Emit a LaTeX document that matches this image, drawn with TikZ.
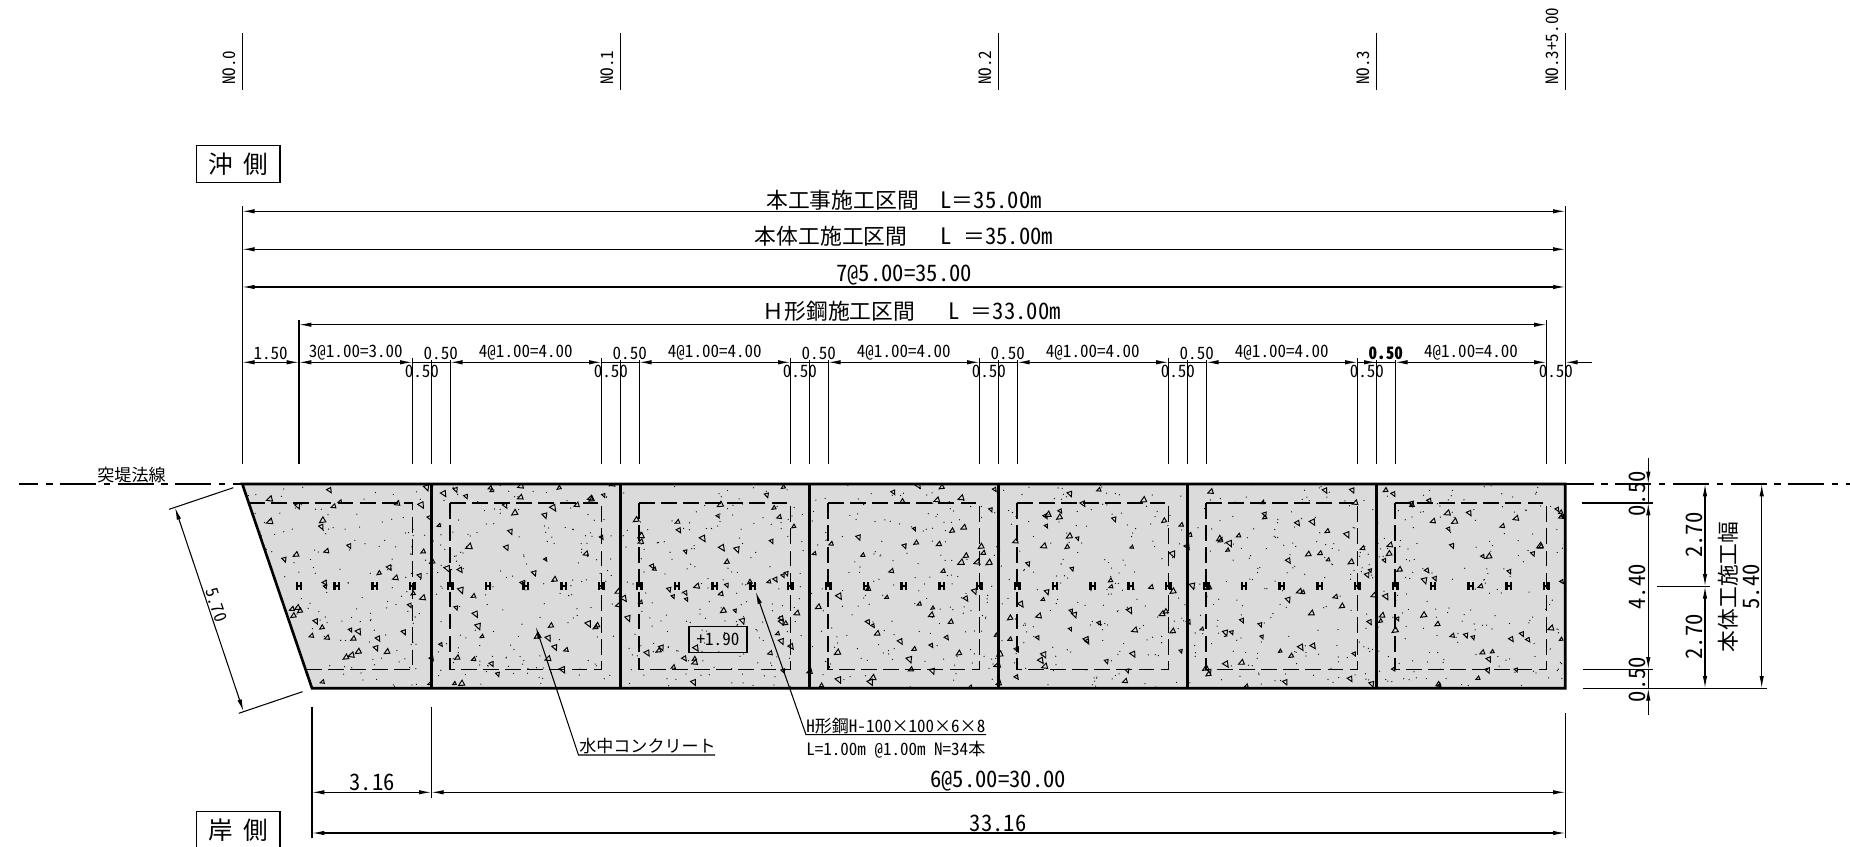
\documentclass[tikz,border=0pt]{standalone}
\usepackage{fontspec}
\setmainfont{Noto Sans CJK JP}[RawFeature={+hwid}]
\newfontfamily\jpw{Noto Sans CJK JP}
\newcommand{\kj}[1]{{\jpw\fontsize{12.4pt}{15pt}\selectfont #1}}
\usetikzlibrary{arrows.meta}
\definecolor{slabgray}{HTML}{DBDBDB}
\begin{document}
\begin{tikzpicture}[x=0.02cm,y=-0.02cm,>={Latex[length=7pt,width=2.5pt]}]
    \tikzstyle{line}=[line width=.6pt]
    \tikzstyle{dim}=[line width=.6pt,<->]
    \tikzstyle{lab}=[inner sep=0pt,font=\fontsize{9.7pt}{12pt}\selectfont]
    \tikzstyle{biglab}=[inner sep=0pt,font=\fontsize{12.9pt}{15pt}\selectfont]
    \tikzstyle{sidebox}=[draw,line width=.6pt,minimum width=47.6pt,minimum height=21.3pt,inner sep=0pt,font=\jpw\fontsize{14pt}{15pt}\selectfont]
    \tikzstyle{centre}=[line width=.6pt,dash pattern=on 20.5pt off 4.3pt on 3.7pt off 4.3pt]
    \tikzstyle{hatch}=[line width=.55pt]
    \useasboundingbox (0,0) rectangle (1850,847);

    \coordinate (tl) at (242.3,484);
    \coordinate (tr) at (1565.3,484);
    \coordinate (br) at (1565.3,688.3);
    \coordinate (bl) at (312,688.3);
    \coordinate (j0) at (431.3,484);
    \coordinate (base) at (0,464.3);

    \fill[slabgray] (tl) -- (tr) -- (br) -- (bl) -- cycle;
    \begin{scope}
        \clip (tl) -- (tr) -- (br) -- (bl) -- cycle;
        \pgfmathsetseed{4711}
        \foreach \k in {0,...,6} {
            \foreach \i in {1,...,170}
                \fill ({242.3+189*\k+189*rnd},{484+204.3*rnd}) circle (.36pt);
            \foreach \i in {1,...,56} {
                \pgfmathsetmacro{\tx}{242.3+189*\k+189*rnd}
                \pgfmathsetmacro{\ty}{484+204.3*rnd}
                \pgfmathsetmacro{\tr}{90*int(2*rnd)+20*rnd-10}
                \pgfmathsetmacro{\ts}{.6+.5*rnd}
                \draw[hatch,line join=miter,shift={(\tx,\ty)},rotate=\tr,scale=\ts] (-3,2) -- (3,2) -- (1,-3) -- cycle;
            }
        }
    \end{scope}

    \tikzstyle{inner}=[line width=.85pt,dash pattern=on 9pt off 3.6pt]
    \draw[inner] (249,503) -- (412.4,503) -- (412.4,669.4) -- (306,669.4);
    \foreach \k in {1,...,6}
        \draw[inner] ({242.3+189*\k+18.9},503) rectangle ({242.3+189*(\k+1)-18.9},669.4);
    \foreach \m in {1,...,34}
        \draw[line width=1.3pt,shift={({242.3+37.8*(\m+.5)},586.3)}] (-2.2,-4) -- (-2.2,4) (2.2,-4) -- (2.2,4) (-2.2,0) -- (2.2,0);

    \draw[line width=1.5pt] (tl) -- (tr) -- (br) -- (bl) -- cycle;
    \foreach \k in {1,...,6}
        \draw[line width=1.5pt] ({242.3+189*\k},484) -- ({242.3+189*\k},688.3);

    \coordinate (cl) at (19.3,484);
    \coordinate (cr) at (1850,484);
    \draw[centre,dash phase=9.6pt] (cl) -- (tl);
    \draw[centre,dash phase=4.3pt] (tr) -- (cr);
    \node (cname) [lab] at (131.5,475) {突堤法線};

    \foreach \n/\xa in {0/242.3,1/620.3,2/998.3,3/1376.3,4/1565.3} {
        \coordinate (nt\n) at (\xa,33);
        \coordinate (nb\n) at (\xa,90);
        \draw[line] (nt\n) -- (nb\n);
    }
    \node (n0) [lab,rotate=90,anchor=west] at (229.7,85) {NO.0};
    \node (n1) [lab,rotate=90,anchor=west] at (607.7,85) {NO.1};
    \node (n2) [lab,rotate=90,anchor=west] at (985.7,85) {NO.2};
    \node (n3) [lab,rotate=90,anchor=west] at (1363.7,85) {NO.3};
    \node (n4) [lab,rotate=90,anchor=west] at (1552.7,85) {NO.3+5.00};

    \node (oki) [sidebox] at (238.2,164) {沖\hspace{6pt}側};
    \node (kishi) [sidebox] at (238.2,830.3) {岸\hspace{6pt}側};

    \coordinate (a0) at (242.3,206);
    \coordinate (a1) at (1565.3,206);
    \coordinate (r1l) at (242.3,211.3);
    \coordinate (r1r) at (1565.3,211.3);
    \coordinate (r2l) at (242.3,249.3);
    \coordinate (r2r) at (1565.3,249.3);
    \coordinate (r3l) at (242.3,287);
    \coordinate (r3r) at (1565.3,287);
    \coordinate (h0) at (299,320);
    \coordinate (h1) at (1546.3,320);
    \coordinate (r4l) at (299,324.7);
    \coordinate (r4r) at (1546.3,324.7);
    \draw[line] (a0) -- (a0 |- base);
    \draw[line] (a1) -- (a1 |- base);
    \draw[line] (h0) -- (h0 |- base);
    \draw[line] (h1) -- (h1 |- base);
    \draw[dim] (r1l) -- (r1r);
    \draw[dim] (r2l) -- (r2r);
    \draw[dim] (r3l) -- (r3r);
    \draw[dim] (r4l) -- (r4r);
    \node (t1) [biglab] at (904,200) {\kj{本工事施工区間　}L\kj{＝}35.00m};
    \node (t2) [biglab] at (904,236.7) {\kj{本体工施工区間　} L \kj{＝}35.00m};
    \node (t3) [biglab] at (904,275) {7@5.00=35.00};
    \node (t4) [biglab] at (911.7,311.7) {\kj{Ｈ形鋼施工区間　} L \kj{＝}33.00m};

    \coordinate (s0) at (242.3,362.3);
    \coordinate (s1) at (299,362.3);
    \coordinate (s2) at (1546.3,362.3);
    \coordinate (s3) at (1565.3,362.3);
    \coordinate (s4) at (1592,362.3);
    \draw[dim] (s0) -- (s1);
    \node (w0) [lab] at (270.7,353) {1.50};
    \foreach \k in {0,...,5} {
        \pgfmathsetmacro{\xj}{431.3+189*\k}
        \coordinate (p\k) at ({\xj-18.9},362.3);
        \coordinate (q\k) at (\xj,362.3);
        \coordinate (r\k) at ({\xj+18.9},362.3);
        \coordinate (pt\k) at ({\xj-18.9},358);
        \coordinate (qt\k) at (\xj,360);
        \coordinate (rt\k) at ({\xj+18.9},360);
        \draw[line] (pt\k) -- (pt\k |- base);
        \draw[line] (qt\k) -- (qt\k |- base);
        \draw[line] (rt\k) -- (rt\k |- base);
        \draw[line] (p\k) -- (r\k);
        \node (lo\k) [lab] at ({\xj-9.45},371.7) {0.50};
    }
    \foreach \k in {0,...,4}
        \node (up\k) [lab] at ({431.3+189*\k+9.45},353) {0.50};
    \node (up5) [lab,font=\fontsize{9.7pt}{12pt}\selectfont\bfseries] at (1385.75,353) {0.50};
    \draw[line,->] (p5) -- (q5);
    \draw[dim] (s1) -- (p0);
    \node (w1) [lab] at (355.8,353) {3@1.00=3.00};
    \foreach \k/\kk in {0/1,1/2,2/3,3/4,4/5} {
        \draw[dim] (r\k) -- (p\kk);
        \node (w\kk) [lab] at ({431.3+189*\k+94.5},353) {4@1.00=4.00};
    }
    \draw[dim] (r5) -- (s2);
    \node (w6) [lab] at (1471,353) {4@1.00=4.00};
    \draw[line,<-] (s3) -- (s4);
    \node (lo6) [lab] at (1555.8,371.7) {0.50};

    \coordinate (ea) at (312,706.7);
    \coordinate (eb) at (431.3,706.7);
    \coordinate (ec) at (1565.3,713.3);
    \coordinate (ea2) at (312,837.7);
    \coordinate (eb2) at (431.3,797.7);
    \coordinate (ec2) at (1565.3,837.7);
    \coordinate (u0) at (312,792.3);
    \coordinate (u1) at (431.3,792.3);
    \coordinate (u2) at (1565.3,792.3);
    \coordinate (v0) at (312,833);
    \coordinate (v1) at (1565.3,833);
    \draw[line] (ea) -- (ea2);
    \draw[line] (eb) -- (eb2);
    \draw[line] (ec) -- (ec2);
    \draw[dim] (u0) -- (u1);
    \draw[dim] (u1) -- (u2);
    \draw[dim] (v0) -- (v1);
    \node (b0) [biglab] at (372,782.3) {3.16};
    \node (b1) [biglab] at (998,781) {6@5.00=30.00};
    \node (b2) [biglab] at (998,823.6) {33.16};

    \coordinate (g0) at (233.3,487.7);
    \coordinate (g1) at (169.2,509.3);
    \coordinate (g2) at (302.5,691.7);
    \coordinate (g3) at (238.8,713.3);
    \coordinate (g4) at (175,507.5);
    \coordinate (g5) at (243.5,711.5);
    \draw[line] (g0) -- (g1);
    \draw[line] (g2) -- (g3);
    \draw[dim] (g4) -- (g5);
    \node (slope) [lab,rotate=-71] at (216.5,605) {5.70};

    \coordinate (c0) at (1648.3,458);
    \coordinate (c1) at (1648.3,484);
    \coordinate (c2) at (1648.3,503);
    \coordinate (c3) at (1648.3,669.3);
    \coordinate (c4) at (1648.3,688.3);
    \coordinate (c5) at (1648.3,715);
    \draw[line,->] (c0) -- (c1);
    \draw[line] (c1) -- (c2);
    \draw[dim] (c2) -- (c3);
    \draw[line] (c3) -- (c4);
    \draw[line,<-] (c4) -- (c5);
    \coordinate (d0) at (1581.7,503);
    \coordinate (d1) at (1653.3,503);
    \coordinate (d2) at (1582.7,669.3);
    \coordinate (d3) at (1653.3,669.3);
    \coordinate (d4) at (1583,688.3);
    \coordinate (d5) at (1766.7,688.3);
    \coordinate (d6) at (1657,586.3);
    \coordinate (d7) at (1710,586.3);
    \draw[line] (d0) -- (d1);
    \draw[line] (d2) -- (d3);
    \draw[line] (d4) -- (d5);
    \draw[line] (d6) -- (d7);
    \coordinate (f0) at (1705,484);
    \coordinate (f1) at (1705,586.3);
    \coordinate (f2) at (1705,688.3);
    \coordinate (f3) at (1761.7,484);
    \coordinate (f4) at (1761.7,688.3);
    \draw[dim] (f0) -- (f1);
    \draw[dim] (f1) -- (f2);
    \draw[dim] (f3) -- (f4);
    \node (m0) [biglab,rotate=90] at (1637,493.7) {0.50};
    \node (m1) [biglab,rotate=90] at (1637,586.7) {4.40};
    \node (m2) [biglab,rotate=90] at (1637,679.5) {0.50};
    \node (m3) [biglab,rotate=90] at (1694,535.3) {2.70};
    \node (m4) [biglab,rotate=90] at (1694,637) {2.70};
    \node (m5) [biglab,rotate=90] at (1751,586.7) {5.40};
    \node (m6) [biglab,rotate=90] at (1728.7,587) {\kj{本体工施工幅}};

    \coordinate (k0) at (535.8,626.7);
    \coordinate (k1) at (578.5,755);
    \coordinate (k2) at (715,755);
    \draw[line,<-] (k0) -- (k1) -- (k2);
    \node (conc) [lab,anchor=west] at (579,746) {水中コンクリート};
    \coordinate (l0) at (755.7,591.7);
    \coordinate (l1) at (806,734.7);
    \coordinate (l2) at (986,734.7);
    \draw[line,<-] (l0) -- (l1) -- (l2);
    \node (steel) [lab,anchor=west] at (806,726) {H形鋼H-100×100×6×8};
    \node (steel2) [lab,anchor=west] at (806,750) {L=1.00m @1.00m N=34本};
    \node (lvl) [lab,draw,line width=.6pt,minimum width=33pt,minimum height=14.8pt] at (718,639.3) {+1.90};
\end{tikzpicture}
\end{document}
